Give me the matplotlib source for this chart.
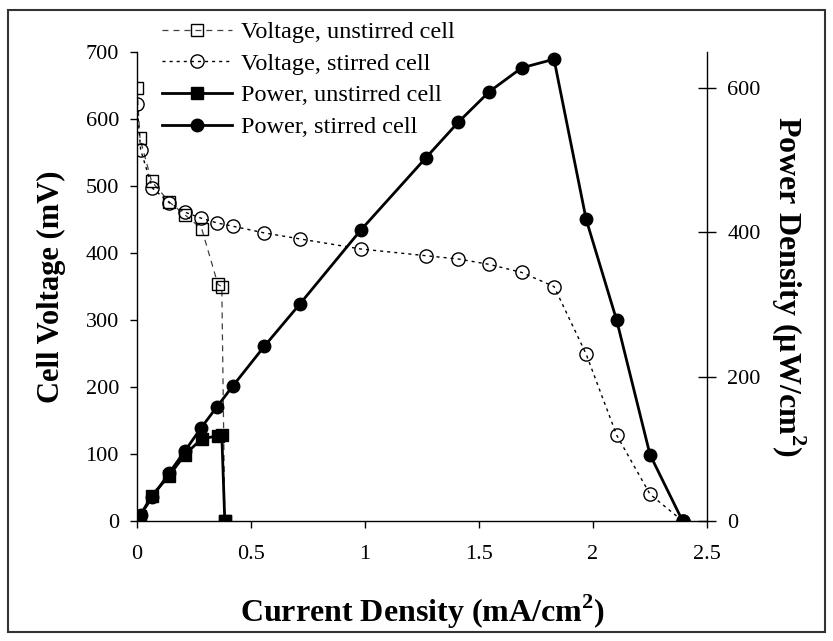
import matplotlib
matplotlib.use("Agg")
import matplotlib.pyplot as plt
from matplotlib.patches import Rectangle

plt.rcParams['font.family'] = ['Liberation Serif', 'DejaVu Serif']
plt.rcParams['mathtext.fontset'] = 'custom'
plt.rcParams['mathtext.rm'] = 'Liberation Serif'
plt.rcParams['mathtext.bf'] = 'Liberation Serif:bold'
plt.rcParams['lines.scale_dashes'] = False

# Unstirred cell
current_unstirred = [0, 0.013, 0.064, 0.142, 0.21, 0.284, 0.355, 0.372, 0.385]
voltage_unstirred = [646, 571, 507, 476, 457, 436, 353, 350, 0]
power_unstirred = [0, 7, 35, 63, 92, 114, 118, 119, 0]

# Stirred cell
current_stirred = [0, 0.016, 0.067, 0.142, 0.21, 0.281, 0.35, 0.42, 0.558, 0.715,
                   0.981, 1.266, 1.41, 1.545, 1.687, 1.829, 1.97, 2.104, 2.25, 2.393]
voltage_stirred = [622, 554, 497, 475, 461, 452, 445, 440, 430, 421,
                   406, 396, 391, 383, 371, 350, 249, 128, 40, 0]
power_stirred = [0, 9, 33, 67, 97, 129, 158, 187, 242, 301,
                 403, 503, 553, 595, 628, 640, 418, 278, 92, 0]

x_ticks = [0, 0.5, 1, 1.5, 2, 2.5]
x_tick_labels = ['0', '0.5', '1', '1.5', '2', '2.5']
v_ticks = [0, 100, 200, 300, 400, 500, 600, 700]
p_ticks = [0, 200, 400, 600]

W, H = 833, 641
fig = plt.figure(figsize=(W / 100, H / 100), dpi=100)
L, R, T, B = 137, 707, 52, 521
ax = fig.add_axes([L / W, 1 - B / H, (R - L) / W, (B - T) / H])
ax2 = ax.twinx()

l1, = ax.plot(current_unstirred, voltage_unstirred, color='#404040', lw=0.9,
              dashes=(4.3, 3.6), marker='s', ms=8.5, mfc='none', mec='black', mew=1.0,
              label='Voltage, unstirred cell')
l2, = ax.plot(current_stirred, voltage_stirred, color='black', lw=1.0,
              dashes=(2.2, 2.9), marker='o', ms=9.5, mfc='none', mec='black', mew=1.0,
              label='Voltage, stirred cell')
l3, = ax2.plot(current_unstirred, power_unstirred, color='black', lw=2.0,
               marker='s', ms=8.5, mfc='black', mec='black',
               label='Power, unstirred cell')
l4, = ax2.plot(current_stirred, power_stirred, color='black', lw=2.0,
               marker='o', ms=9, mfc='black', mec='black',
               label='Power, stirred cell')

ax.set_xlim(0, 2.5)
ax.set_ylim(0, 700)
ax2.set_ylim(0, 650)

for a in (ax, ax2):
    a.spines['top'].set_visible(False)
    for s in a.spines.values():
        s.set_linewidth(1.0)
ax.spines['right'].set_visible(False)
ax2.spines['left'].set_visible(False)
ax2.spines['bottom'].set_visible(False)

ax.set_xticks(x_ticks)
ax.set_xticklabels(x_tick_labels)
ax.set_yticks(v_ticks)
ax2.set_yticks(p_ticks)

ax.tick_params(axis='x', direction='out', length=5, width=1, labelsize=16, pad=12)
ax.tick_params(axis='y', direction='out', length=5, width=1, labelsize=16, pad=8)
ax2.tick_params(axis='y', direction='inout', length=13, width=1, labelsize=16, pad=8)

ax.set_xlabel('Current Density (mA/cm$^\\mathbf{2}$)', fontsize=23, fontweight='bold', labelpad=21)
ax.set_ylabel('Cell Voltage (mV)', fontsize=22, fontweight='bold', labelpad=14)
ax2.set_ylabel('Power Density (\u00b5W/cm$^\\mathbf{2}$)', fontsize=23, fontweight='bold',
               rotation=-90, labelpad=34)

leg = fig.legend(handles=[l1, l2, l3, l4], loc='upper left',
                 bbox_to_anchor=(162 / W, 1 - 21 / H), bbox_transform=fig.transFigure,
                 frameon=False, fontsize=17.5, handlelength=2.9, handletextpad=0.37,
                 labelspacing=0.4, borderpad=0, borderaxespad=0)

fig.patches.append(Rectangle((8 / W, 1 - 632 / H), (825 - 8) / W, (632 - 10) / H,
                             transform=fig.transFigure, fill=False,
                             edgecolor='#333333', lw=1.5))

fig.savefig('out.png', dpi=100)
